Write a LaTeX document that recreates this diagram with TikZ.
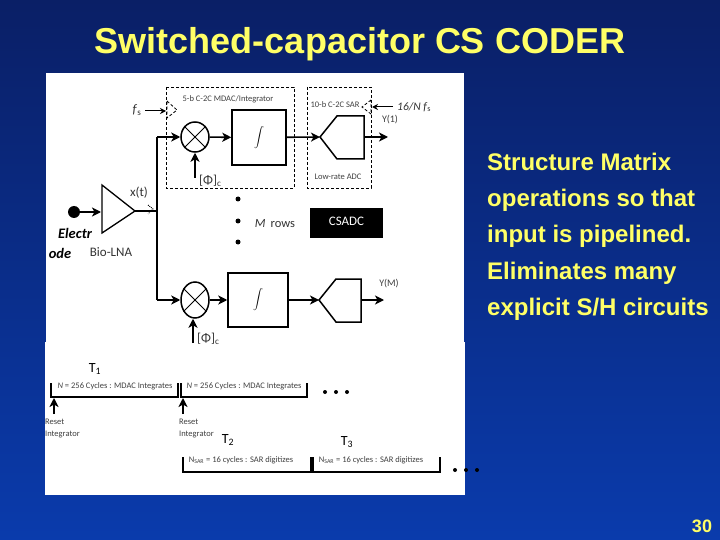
\documentclass[tikz,border=0pt]{standalone}
\usepackage{fontspec}
\setmainfont{Liberation Sans}
\newfontfamily\labelfont{Carlito}
\usetikzlibrary{arrows.meta,shapes.geometric}
\definecolor{navytop}{HTML}{0A1F66}
\definecolor{navybot}{HTML}{0A3BAC}
\definecolor{chalk}{HTML}{FFFF66}
\tikzset{
  wirearrow/.style={-{Stealth[length=9pt,width=9pt,inset=2.5pt]},line width=1.6pt},
  thinarrow/.style={-{Stealth[length=6pt,width=6pt]},line width=1pt},
  thinwire/.style={line width=1.2pt},
  dashbox/.style={draw,densely dashed,line width=.8pt},
  intbox/.style={draw,line width=1.5pt,inner sep=0pt},
  mixer/.style={draw,ellipse,line width=1.5pt,inner sep=0pt,minimum width=28pt},
  tag/.style={font=\labelfont\fontsize{8.5}{12}\selectfont,text=black!75,inner sep=0pt},
  bigtag/.style={font=\labelfont\fontsize{13}{14}\selectfont,text=black!80,inner sep=0pt},
  timetag/.style={font=\labelfont\fontsize{14}{14}\selectfont,inner sep=0pt},
  elecfont/.style={font=\labelfont\bfseries\itshape\fontsize{14.5}{14.5}\selectfont,inner sep=0pt},
  slideline/.style={font=\bfseries\fontsize{24}{24}\selectfont,text=chalk,anchor=base west,inner sep=0pt},
  microdot/.style={circle,inner sep=0pt,minimum size=5pt,fill=black},
}
\begin{document}
\begin{tikzpicture}[x=1pt,y=-1pt]
  \useasboundingbox (0,0) rectangle (720,540);
  \shade[top color=navytop,bottom color=navybot] (0,0) rectangle (720,540);
  \fill[white] (46,73) rectangle (464,342);
  \fill[white] (45,342) rectangle (465,495);

  % Title, side text and page number.
  \node (title) [font=\bfseries\fontsize{36}{36}\selectfont,text=chalk,inner sep=0pt] at (360,44) {Switched-capacitor CS CODER};
  \node (lineA) [slideline] at (487,171) {Structure Matrix};
  \node (lineB) [slideline] at (487,207) {operations so that};
  \node (lineC) [slideline] at (487,243) {input is pipelined.};
  \node (lineD) [slideline] at (487,279) {Eliminates many};
  \node (lineE) [slideline] at (487,315) {explicit S/H circuits};
  \node (page) [font=\bfseries\fontsize{18}{18}\selectfont,text=chalk,inner sep=0pt] at (702,526) {30};

  % Top row: MDAC and low-rate ADC.
  \draw[dashbox] (166,87) rectangle (294,188);
  \draw[dashbox] (307,87) rectangle (371,188);
  \node (mdactag) [tag] at (228,99) {5-b C-2C MDAC/Integrator};
  \node (sartag) [tag] at (335,105) {10-b C-2C SAR};
  \node (lowtag) [tag] at (338,177) {Low-rate ADC};
  \node (fsA) [bigtag] at (137,110) {\textit{f}\textsubscript{s}};
  \coordinate (fsend) at (166,111);
  \draw[thinarrow] (145,111) -- (fsend);
  \draw[densely dashed,line width=.8pt] (167,101) -- (177,110) -- (167,118) -- cycle;
  \node (fsB) [bigtag,anchor=west,font=\labelfont\fontsize{11.5}{12}\selectfont] at (397,107) {\textit{16/N f}\textsubscript{s}};
  \coordinate (fsBend) at (372,107);
  \draw[thinarrow,shorten <=4pt] (fsB.west) -- (fsBend);
  \draw[densely dashed,line width=.8pt] (371,100) -- (362,107) -- (371,114) -- cycle;
  \node (mixA) [mixer,minimum height=30pt] at (195,137) {};
  \draw[line width=1pt] (mixA.45) -- (mixA.225) (mixA.135) -- (mixA.315);
  \node (intA) [intbox,minimum width=54pt,minimum height=55pt] at (259,137.5) {$\displaystyle\int$};
  \coordinate (adcA) at (320,137);
  \draw[line width=1.5pt] (adcA) -- (337,116) -- (364,116) -- (364,159) -- (337,159) -- cycle;
  \coordinate (adcAout) at (364,137);
  \coordinate (outA) at (388,137);
  \coordinate (phiA) at (195,178);
  \node (yA) [tag,font=\labelfont\fontsize{10}{10}\selectfont] at (390,120) {Y(1)};
  \node (matA) [bigtag,anchor=west] at (199,181) {[Φ]\textsubscript{c}};
  \draw[wirearrow] (mixA) -- (intA);
  \draw[wirearrow] (intA) -- (adcA);
  \draw[wirearrow] (adcAout) -- (outA);
  \draw[wirearrow] (phiA) -- (mixA);

  % Electrode and low-noise amplifier.
  \node (elec) [circle,fill=black,inner sep=0pt,minimum size=12pt] at (74,212) {};
  \coordinate (lnaTop) at (102,185);
  \coordinate (lnaBot) at (102,233);
  \coordinate (lnaIn) at (101,212);
  \coordinate (lnaOut) at (135,211);
  \coordinate (branch) at (157,211);
  \draw[line width=1.3pt] (lnaTop) -- (lnaOut) -- (lnaBot) -- cycle;
  \draw[wirearrow] (elec) -- (lnaIn);
  \draw[line width=1.6pt] (lnaOut) -- (branch);
  \draw[line width=.9pt,densely dotted] (148,205) -- (153,209) -- (148,214);
  \node (xt) [bigtag] at (139,193) {x(t)};
  \node (elecA) [elecfont] at (75,233) {Electr};
  \node (elecB) [elecfont] at (60,253) {ode};
  \node (lnatag) [bigtag] at (111,252) {Bio-LNA};

  % Rows between.
  \node (dotA) [microdot] at (238,199) {};
  \node (dotB) [microdot] at (238,221) {};
  \node (dotC) [microdot] at (238,242) {};
  \node (rows) [bigtag,font=\labelfont\fontsize{12.5}{14}\selectfont] at (275,224) {\textit{M}\, rows};
  \node (csadc) [fill=black,text=white,minimum width=73pt,minimum height=30pt,inner sep=0pt,font=\labelfont\fontsize{13}{13}\selectfont] at (346.5,223) {\raisebox{3pt}{CSADC}};

  % Bottom row.
  \node (mixB) [mixer,minimum height=36pt] at (195,300) {};
  \draw[line width=1pt] (mixB.45) -- (mixB.225) (mixB.135) -- (mixB.315);
  \node (intB) [intbox,minimum width=60pt,minimum height=54pt] at (258,300) {$\displaystyle\int$};
  \coordinate (adcB) at (319,300);
  \draw[line width=1.5pt] (adcB) -- (336,279) -- (361,279) -- (361,322) -- (336,322) -- cycle;
  \coordinate (adcBout) at (361,300);
  \coordinate (outB) at (384,300);
  \coordinate (phiB) at (193,343);
  \node (yB) [tag,font=\labelfont\fontsize{10}{10}\selectfont] at (389,284) {Y(M)};
  \node (matB) [bigtag,anchor=west] at (197,339) {[Φ]\textsubscript{c}};
  \coordinate (feedA) at (157,137);
  \coordinate (feedB) at (157,300);
  \draw[line width=1.6pt] (feedA) -- (feedB);
  \draw[wirearrow] (feedA) -- (mixA);
  \draw[wirearrow] (feedB) -- (mixB);
  \draw[wirearrow] (mixB) -- (intB);
  \draw[wirearrow] (intB) -- (adcB);
  \draw[wirearrow] (adcBout) -- (outB);
  \draw[wirearrow] (phiB) -- (mixB.south -| phiB);

  % Timing brackets.
  \node (tA) [timetag] at (95,369) {T\textsubscript{1}};
  \node (tB) [timetag] at (228,440) {T\textsubscript{2}};
  \node (tC) [timetag] at (347,442) {T\textsubscript{3}};
  \draw[thinwire] (51,383) |- (178,397) -- (178,383);
  \draw[thinwire] (181,383) |- (307,397) -- (307,383);
  \draw[thinwire] (183,457) |- (311,472) -- (311,457);
  \draw[thinwire] (313,457) |- (440,472) -- (440,457);
  \node (cycA) [tag] at (115,386) {\textit{N} = 256 Cycles : MDAC Integrates};
  \node (cycB) [tag] at (244,386) {\textit{N} = 256 Cycles : MDAC Integrates};
  \node (sarA) [tag] at (241,460) {N\textsubscript{SAR} = 16 cycles : SAR digitizes};
  \node (sarB) [tag] at (371,460) {N\textsubscript{SAR} = 16 cycles : SAR digitizes};
  \coordinate (rstA) at (54,414);
  \coordinate (rstB) at (183,414);
  \coordinate (tickA) at (54,398);
  \coordinate (tickB) at (183,398);
  \draw[wirearrow] (rstA) -- (tickA);
  \draw[wirearrow] (rstB) -- (tickB);
  \node (txtA) [tag,anchor=west,align=left] at (45,429) {Reset\\Integrator};
  \node (txtB) [tag,anchor=west,align=left] at (179,429) {Reset\\Integrator};
  \foreach \x/\y in {325/392,336/392,347/392,455/470,466/470,477/470}
    {\fill[black] (\x,\y) circle (2);}
\end{tikzpicture}
\end{document}
